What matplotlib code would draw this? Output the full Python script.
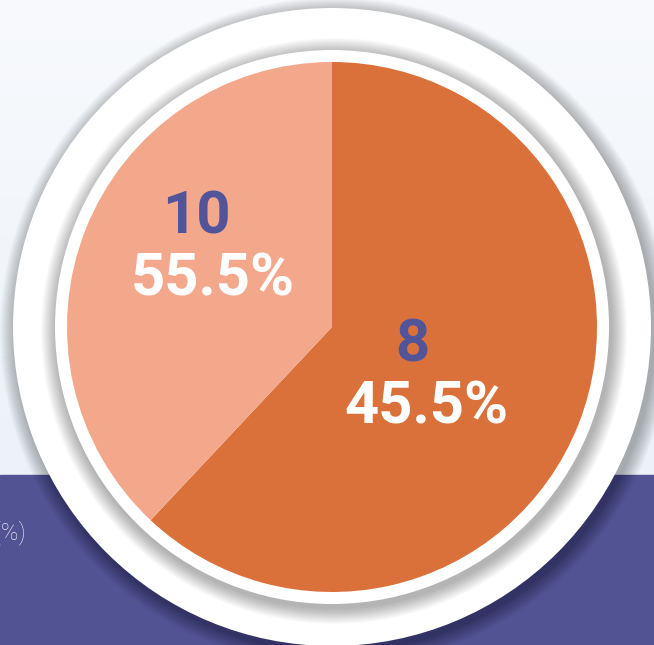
import numpy as np
import matplotlib
matplotlib.use("Agg")
import matplotlib.pyplot as plt
from matplotlib.patches import Circle, Rectangle

# pie data (wedge sweep, labels as printed)
counts = [8, 10]
pct_labels = ["45.5%", "55.5%"]
shares = [62.0, 38.0]
colors = ["#DB713A", "#F4A88B"]

W, H = 654, 645
cx, cy = 332, 645 - 327
r_pie, r_inner, r_outer = 265, 277, 319

fig = plt.figure(figsize=(W / 100, H / 100), dpi=100)
ax = fig.add_axes([0, 0, 1, 1])

# background: light gradient on top, purple band below
grad = np.linspace(0, 1, 256).reshape(-1, 1)
top = np.array([248, 250, 253]) / 255
bot = np.array([236, 242, 248]) / 255
img = top[None, None, :] * (1 - grad[:, :, None]) + bot[None, None, :] * grad[:, :, None]
ax.imshow(img, extent=[0, W, 645 - 475, H], aspect="auto", zorder=0)
ax.add_patch(Rectangle((0, 0), W, 645 - 475, color="#525393", zorder=1))
ax.text(26, 645 - 533, "Share (%)", ha="right", va="center", color="#e6e6f0",
        fontsize=17, family="Roboto", fontweight="light", zorder=2)

# outer disc with soft shadow
for k in range(16, 0, -1):
    ax.add_patch(Circle((cx + 3, cy - 5), r_outer + k, color="black",
                        alpha=0.02, lw=0, zorder=3))
ax.add_patch(Circle((cx, cy), r_outer, color="white", lw=0, zorder=4))

# inner disc with shadow
for k in range(16, 0, -1):
    ax.add_patch(Circle((cx + 2, cy - 4), r_inner + k, color="black",
                        alpha=0.02, lw=0, zorder=5))
ax.add_patch(Circle((cx, cy), r_inner, color="white", lw=0, zorder=6))

wedges, _ = ax.pie(shares, colors=colors, startangle=90, counterclock=False,
                   center=(cx, cy), radius=r_pie, frame=True,
                   wedgeprops=dict(linewidth=0))
for w in wedges:
    w.set_zorder(7)
ax.set_xlim(0, W)
ax.set_ylim(0, H)
ax.set_aspect("auto")
ax.axis("off")

# labels
num_pos = [(412, 345), (196, 218)]
pct_pos = [(426, 407), (213, 280)]
for n, p, (nx, ny), (px, py) in zip(counts, pct_labels, num_pos, pct_pos):
    ax.text(nx, H - ny, str(n), ha="center", va="center", color="#52549A",
            fontsize=43, family="Roboto", fontweight="bold", zorder=8)
    ax.text(px, H - py, p, ha="center", va="center", color="white",
            fontsize=43, family="Roboto", fontweight="bold", zorder=8)

fig.savefig("out.png", dpi=100)
